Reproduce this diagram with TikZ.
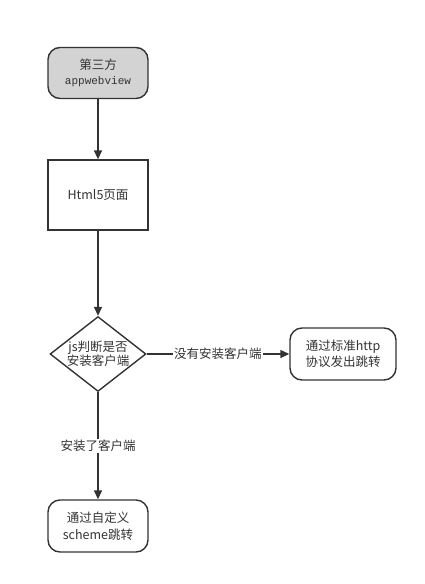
\documentclass[tikz,border=0pt]{standalone}
\usepackage{fontspec}
\setmainfont{Noto Sans CJK SC}
\newfontfamily\monofont{Liberation Mono}
\usetikzlibrary{shapes.geometric,arrows.meta}
\definecolor{linegray}{HTML}{333333}
\definecolor{termgray}{HTML}{D3D3D3}
\tikzset{
    terminal/.style={draw=linegray,line width=1.4pt,rectangle,rounded corners=12pt,minimum width=100pt,minimum height=51pt,align=center,text=linegray,font=\fontsize{12.5}{16.5}\selectfont},
    procbox/.style={draw=linegray,line width=1.4pt,rectangle,minimum width=100pt,minimum height=70pt,align=center,text=linegray,font=\fontsize{12.5}{16.5}\selectfont},
    decision/.style={draw=linegray,line width=1.4pt,diamond,aspect=1.28,inner sep=0pt,minimum width=92pt,minimum height=72pt,align=center,text=linegray,font=\fontsize{12.5}{16.5}\selectfont},
    flow/.style={draw=linegray,line width=1.4pt,-{Triangle[length=9pt,width=8pt]}},
    flowlabel/.style={fill=white,inner sep=1pt,font=\fontsize{12.5}{16.5}\selectfont,text=linegray}
}
\begin{document}
\begin{tikzpicture}[x=1pt,y=-1pt]
    \useasboundingbox (0,0) rectangle (425,584);
    %% Nodes
    \node[terminal,fill=termgray] (start) at (98,73) {第三方\\[-2pt]{\monofont\fontsize{11}{13}\selectfont appwebview}};
    \node[procbox] (page) at (98,195) {Html5页面};
    \node[decision] (check) at (98,354) {js判断是否\\[-2pt]安装客户端};
    \node[terminal,minimum width=106pt,minimum height=52pt] (http) at (343,354) {通过标准http\\协议发出跳转};
    \node[terminal,minimum height=52pt] (scheme) at (98,526) {通过自定义\\scheme跳转};
    %% Connectors
    \draw[flow] (start) -- (page);
    \draw[flow] (page) -- (check);
    \draw[flow] (check) -- (http) node[pos=0.5,flowlabel] {没有安装客户端};
    \draw[flow] (check) -- (scheme) node[pos=0.5,flowlabel] {安装了客户端};
\end{tikzpicture}
\end{document}
